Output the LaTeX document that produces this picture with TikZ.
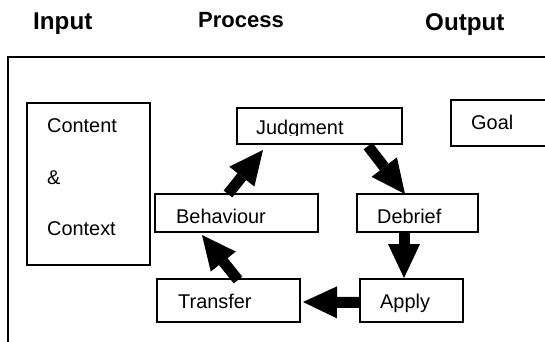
\documentclass[tikz,border=0pt]{standalone}
\usepackage{fontspec}
\setmainfont{Liberation Sans}
\usetikzlibrary{arrows.meta,calc}
\begin{document}
\begin{tikzpicture}[x=1pt,y=-1pt,
  box/.style={draw, line width=1.5pt, rectangle, inner sep=0pt, outer sep=0pt, anchor=north west},
  lbl/.style={anchor=base west, inner sep=0pt, font=\fontsize{19.9}{22}\selectfont},
  ttl/.style={anchor=base west, inner sep=0pt, font=\bfseries\fontsize{24.2}{27}\selectfont},
  barrow/.style={line width=11pt, -{Triangle[width=32pt,length=34pt,line width=0pt]}}]
\useasboundingbox (0,0) rectangle (545,341);
\clip (0,0) rectangle (545,341);
% titles
\node[ttl] (tin) at (33,29) {Input};
\node[ttl, font=\bfseries\fontsize{22}{25}\selectfont] (tpr) at (198,27) {Process};
\node[ttl] (tout) at (425,30) {Output};
% frame
\coordinate (fbl) at (8,360);
\coordinate (ftl) at (8,57);
\coordinate (ftr) at (560,57);
\draw[line width=1.8pt] (fbl) -- (ftl) -- (ftr);
% boxes
\node[box, minimum width=123pt, minimum height=162pt] (content) at (27,103) {};
\node[box, minimum width=165pt, minimum height=36pt] (judg) at (237,108) {};
\node[box, minimum width=163pt, minimum height=38pt] (behav) at (155,194) {};
\node[box, minimum width=121pt, minimum height=38pt] (debrief) at (357,194) {};
\node[box, minimum width=143pt, minimum height=43pt] (transfer) at (157,279) {};
\node[box, minimum width=103pt, minimum height=43pt] (apply) at (360,279) {};
\node[box, minimum width=120pt, minimum height=46pt] (goal) at (451,100) {};
% texts
\node[lbl] (tcontent) at (47,132) {Content};
\node[lbl] (tamp) at (47,184) {\&};
\node[lbl] (tcontext) at (47,235) {Context};
\begin{scope}
\clip (240,110) rectangle (400,135);
\node[lbl] (tjudg) at (256,134.5) {Judgment};
\end{scope}
\begin{scope}
\clip (158,196) rectangle (480,223.5);
\node[lbl] (tbehav) at (176,223) {Behaviour};
\node[lbl] (tdebrief) at (377,223) {Debrief};
\end{scope}
\node[lbl] (ttransfer) at (178,308) {Transfer};
\node[lbl] (tapply) at (380,308) {Apply};
\node[lbl] (tgoal) at (471,129) {Goal};
% block arrows
\draw[barrow] ($(transfer.north west)+(81,1)$) -- ($(behav.south west)+(47,3)$);
\draw[barrow] ($(behav.north west)+(73,0)$) -- ($(judg.south west)+(26,6)$);
\draw[barrow] ($(judg.south east)+(-34,2)$) -- ($(debrief.north west)+(48,0)$);
\draw[barrow] ($(debrief.south west)+(47,0)$) -- ($(apply.north west)+(44,-1)$);
\draw[barrow] ($(apply.west)+(0,2)$) -- ($(transfer.east)+(3,1.5)$);
\end{tikzpicture}
\end{document}
